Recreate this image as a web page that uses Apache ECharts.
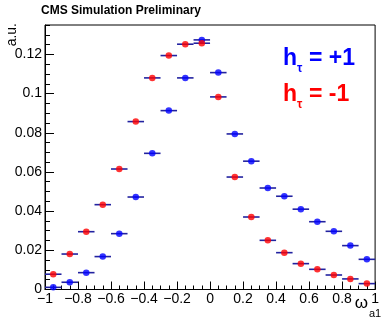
<!DOCTYPE html>
<html>
<head>
<meta charset="utf-8">
<script src="https://cdn.jsdelivr.net/npm/echarts@6/dist/echarts.min.js"></script>
<style>
html,body{margin:0;padding:0;background:#fff;}
#chart{width:382px;height:321px;}
</style>
</head>
<body>
<div id="chart"></div>
<script>
// ---- data ----
const binCenters = [-0.95, -0.85, -0.75, -0.65, -0.55, -0.45, -0.35, -0.25, -0.15, -0.05,
                     0.05, 0.15, 0.25, 0.35, 0.45, 0.55, 0.65, 0.75, 0.85, 0.95];
const binWidth = 0.1;
const plusOneValues = [0.0011, 0.0037, 0.0086, 0.0168, 0.0285, 0.0472, 0.0695, 0.0913, 0.1080, 0.1274,
                       0.1107, 0.0794, 0.0655, 0.0518, 0.0476, 0.0410, 0.0346, 0.0297, 0.0224, 0.0154];
const minusOneValues = [0.0078, 0.0181, 0.0295, 0.0433, 0.0615, 0.0857, 0.1080, 0.1194, 0.1252, 0.1257,
                        0.0983, 0.0574, 0.0370, 0.0251, 0.0188, 0.0132, 0.0103, 0.0074, 0.0054, 0.0030];
const titleText = 'CMS Simulation Preliminary';
const yTitle = 'a.u.';
const xTitleMain = 'ω';
const xTitleSub = 'a1';
const legendLabels = ['= +1', '= -1'];

const FONT = "'Liberation Sans', Arial, Helvetica, sans-serif";
const BLUE = '#0000ff', RED = '#ff0000', BAR = '#2222a0';

function pairs(vals){ return binCenters.map((c,i)=>[c, vals[i]]); }

function errBar(params, api){
  const x = api.value(0), y = api.value(1);
  const p1 = api.coord([x - binWidth/2, y]);
  const p2 = api.coord([x + binWidth/2, y]);
  return {type:'line', shape:{x1:p1[0], y1:p1[1], x2:p2[0], y2:p2[1]},
          style:{stroke:BAR, lineWidth:1.6}};
}

const chart = echarts.init(document.getElementById('chart'), null, {renderer:'canvas'});
chart.setOption({
  animation:false,
  backgroundColor:'#fff',
  grid:{left:45, right:3, top:25, bottom:31.5, show:true, borderColor:'#000', borderWidth:1, backgroundColor:'transparent'},
  xAxis:{
    type:'value', min:-1, max:1, interval:0.2,
    axisLine:{show:true, onZero:false, lineStyle:{color:'#000', width:1}},
    axisTick:{show:true, inside:true, length:8, lineStyle:{color:'#000'}},
    minorTick:{show:true, splitNumber:4, length:4, lineStyle:{color:'#000'}},
    splitLine:{show:false},
    axisLabel:{color:'#000', fontSize:14, fontFamily:FONT, margin:3,
      formatter:v=>{ const s = String(parseFloat(v.toFixed(2))); return s.replace('-', '\u2212'); }}
  },
  yAxis:[{
    type:'value', min:0, max:0.135, interval:0.02, position:'left',
    axisLine:{show:true, onZero:false, lineStyle:{color:'#000', width:1}},
    axisTick:{show:true, inside:true, length:9, lineStyle:{color:'#000'}},
    splitLine:{show:false},
    axisLabel:{color:'#000', fontSize:14, fontFamily:FONT, margin:3, showMaxLabel:false,
      formatter:v=>String(parseFloat(v.toFixed(3)))}
  },{
    type:'value', min:0, max:0.135, interval:0.005, position:'left', offset:0,
    axisLine:{show:false, onZero:false},
    axisTick:{show:true, inside:true, length:5, lineStyle:{color:'#000'}},
    splitLine:{show:false},
    axisLabel:{show:false}
  }],
  series:[
    {type:'custom', renderItem:errBar, data:pairs(plusOneValues), encode:{x:0,y:1}, z:2},
    {type:'scatter', data:pairs(plusOneValues), symbol:'circle', symbolSize:6.5,
     itemStyle:{color:BLUE}, z:3},
    {type:'custom', renderItem:errBar, data:pairs(minusOneValues), encode:{x:0,y:1}, z:4},
    {type:'scatter', data:pairs(minusOneValues), symbol:'circle', symbolSize:6.5,
     itemStyle:{color:RED}, z:5}
  ],
  graphic:[
    {type:'text', x:41, y:11, style:{text:titleText, font:'bold 12px '+FONT, fill:'#000', textAlign:'left', textVerticalAlign:'middle'}},
    {type:'text', x:12, y:23, rotation:Math.PI/2, style:{text:yTitle, font:'14px '+FONT, fill:'#000', textAlign:'right', textVerticalAlign:'middle'}},
    {type:'text', x:368, y:303, style:{text:xTitleMain, font:'17px '+FONT, fill:'#000', textAlign:'right', textVerticalAlign:'middle'}},
    {type:'text', x:369, y:314, style:{text:xTitleSub, font:'11px '+FONT, fill:'#000', textAlign:'left', textVerticalAlign:'middle'}},
    {type:'text', x:283, y:59, style:{text:'h', font:'bold 23px '+FONT, fill:BLUE, textAlign:'left', textVerticalAlign:'middle'}},
    {type:'text', x:297, y:69, style:{text:'τ', font:'bold 12px '+FONT, fill:BLUE, textAlign:'left', textVerticalAlign:'middle'}},
    {type:'text', x:309, y:59, style:{text:legendLabels[0], font:'bold 23px '+FONT, fill:BLUE, textAlign:'left', textVerticalAlign:'middle'}},
    {type:'text', x:283, y:95, style:{text:'h', font:'bold 23px '+FONT, fill:RED, textAlign:'left', textVerticalAlign:'middle'}},
    {type:'text', x:297, y:105, style:{text:'τ', font:'bold 12px '+FONT, fill:RED, textAlign:'left', textVerticalAlign:'middle'}},
    {type:'text', x:309, y:95, style:{text:legendLabels[1], font:'bold 23px '+FONT, fill:RED, textAlign:'left', textVerticalAlign:'middle'}}
  ]
});
</script>
</body>
</html>
